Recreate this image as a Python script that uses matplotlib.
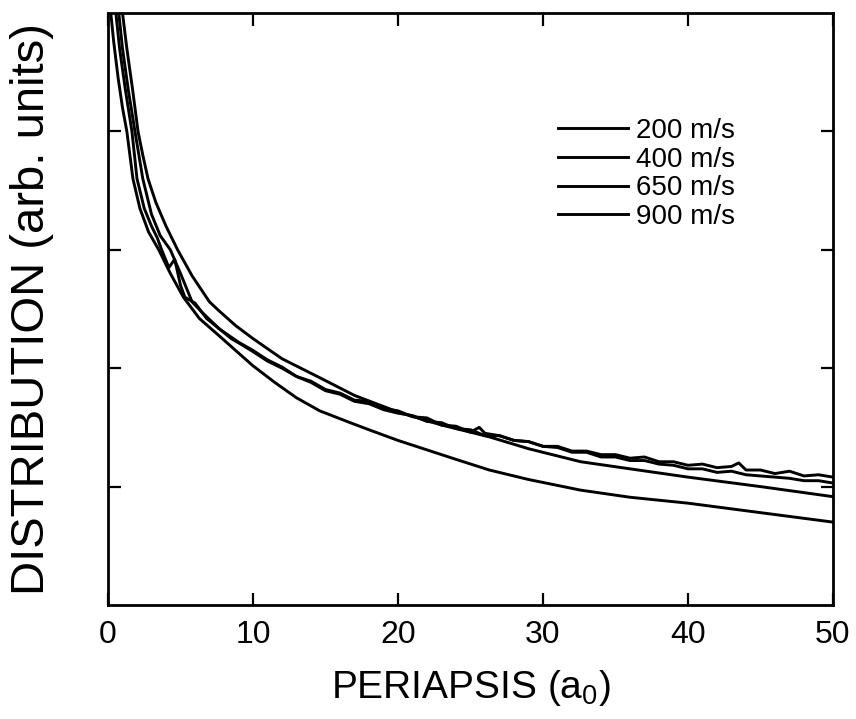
import matplotlib
matplotlib.use("Agg")
import matplotlib.pyplot as plt

# ---- data ----
labels = ["200 m/s", "400 m/s", "650 m/s", "900 m/s"]

# curve highest at large periapsis (noisy)
xa = [0.5, 0.8, 1.2, 1.65, 2.0, 2.5, 3.0, 3.4, 3.7, 4.2, 4.6, 5.0, 5.3, 6.0, 6.8, 7.7, 8.5, 9.2, 10,
      11, 12, 13, 14, 15, 16, 17, 18, 19, 20, 21, 22, 23, 24, 25, 25.6, 26, 27, 28, 29, 30, 31, 32,
      33, 34, 35, 36, 37, 38, 39, 40, 41, 42, 43, 43.5, 44, 45, 46, 47, 48, 49, 50]
ya = [5.05, 4.7, 4.35, 4.0, 3.6, 3.35, 3.2, 3.1, 3.0, 2.85, 2.92, 2.7, 2.6, 2.55, 2.42, 2.33, 2.25,
      2.2, 2.14, 2.06, 2.00, 1.93, 1.89, 1.82, 1.79, 1.73, 1.72, 1.66, 1.64, 1.59, 1.58, 1.52, 1.51,
      1.46, 1.50, 1.45, 1.43, 1.39, 1.38, 1.34, 1.34, 1.30, 1.30, 1.27, 1.27, 1.24, 1.25, 1.21, 1.21,
      1.18, 1.19, 1.16, 1.17, 1.20, 1.14, 1.14, 1.11, 1.13, 1.09, 1.10, 1.08]

# second noisy curve
xb = [0.7, 1.0, 1.4, 1.86, 2.4, 3.0, 3.6, 4.3, 5.0, 5.8, 6.5, 7.7, 9, 10, 11, 12, 13, 14, 15, 16,
      17, 18, 19, 20, 21, 22, 23, 24, 25, 26, 27, 28, 29, 30, 31, 32, 33, 34, 35, 36, 37, 38, 39, 40,
      41, 42, 43, 44, 45, 46, 47, 48, 49, 50]
yb = [5.05, 4.7, 4.35, 4.0, 3.6, 3.3, 3.12, 3.0, 2.8, 2.56, 2.47, 2.33, 2.22, 2.15, 2.07, 2.01,
      1.93, 1.88, 1.81, 1.78, 1.72, 1.70, 1.65, 1.62, 1.60, 1.55, 1.54, 1.49, 1.48, 1.43, 1.43, 1.39,
      1.38, 1.34, 1.33, 1.29, 1.29, 1.25, 1.25, 1.22, 1.22, 1.19, 1.18, 1.15, 1.15, 1.12, 1.13, 1.10,
      1.09, 1.08, 1.07, 1.05, 1.05, 1.03]

# curve highest at small periapsis
xc = [0.95, 1.3, 1.7, 2.07, 2.4, 2.76, 3.3, 4.0, 4.8, 5.8, 7.0, 7.7, 8.8, 10, 12, 14.6, 17, 20, 23,
      26.3, 29, 32.6, 36, 40, 45, 50]
yc = [5.05, 4.7, 4.35, 4.0, 3.8, 3.6, 3.4, 3.2, 3.0, 2.78, 2.56, 2.48, 2.36, 2.25, 2.08, 1.92, 1.77,
      1.63, 1.52, 1.42, 1.32, 1.21, 1.15, 1.08, 1.00, 0.915]

# lowest curve at large periapsis
xd = [0.15, 0.4, 0.7, 1.0, 1.3, 1.72, 2.2, 2.8, 3.5, 4.3, 5.2, 6.3, 7.7, 8.8, 10, 11.5, 13, 14.6,
      16.7, 18, 20, 22, 24, 26.3, 29, 32.6, 36, 40, 45, 50]
yd = [5.05, 4.75, 4.45, 4.2, 4.0, 3.6, 3.35, 3.15, 3.0, 2.8, 2.6, 2.42, 2.27, 2.15, 2.02, 1.88, 1.75,
      1.64, 1.54, 1.48, 1.39, 1.31, 1.23, 1.14, 1.06, 0.97, 0.91, 0.86, 0.78, 0.70]

xticks = [0, 10, 20, 30, 40, 50]
yticks = [1, 2, 3, 4]

# ---- figure ----
plt.rcParams['font.family'] = ['Liberation Sans', 'DejaVu Sans']
plt.rcParams['mathtext.fontset'] = 'custom'
plt.rcParams['mathtext.rm'] = 'Liberation Sans'
plt.rcParams['mathtext.it'] = 'Liberation Sans'

fig = plt.figure(figsize=(8.56, 7.19), dpi=100)
ax = fig.add_axes([108/856, 1-605/719, (833-108)/856, (605-13)/719])

lw = 2.1
for xs, ys, lab in zip([xa, xb, xc, xd], [ya, yb, yc, yd], labels):
    ax.plot(xs, ys, color='black', lw=lw, label=lab)

ax.set_xlim(0, 50)
ax.set_ylim(0, 5)
ax.set_xticks(xticks)
ax.set_yticks(yticks)
ax.set_yticklabels([])
ax.tick_params(direction='in', length=9, width=1.6, top=True, right=True,
               labelsize=23, pad=11)
for s in ax.spines.values():
    s.set_linewidth(2.0)

ax.set_xlabel("PERIAPSIS (a$_0$)", fontsize=28, labelpad=13)
ax.set_ylabel("DISTRIBUTION (arb. units)", fontsize=34, labelpad=28)

leg = ax.legend(loc='upper left', bbox_to_anchor=(0.621, 0.823), frameon=False,
                fontsize=20, handlelength=2.5, handletextpad=0.3, labelspacing=0.1,
                borderpad=0, borderaxespad=0)

fig.savefig("out.png", dpi=100)
